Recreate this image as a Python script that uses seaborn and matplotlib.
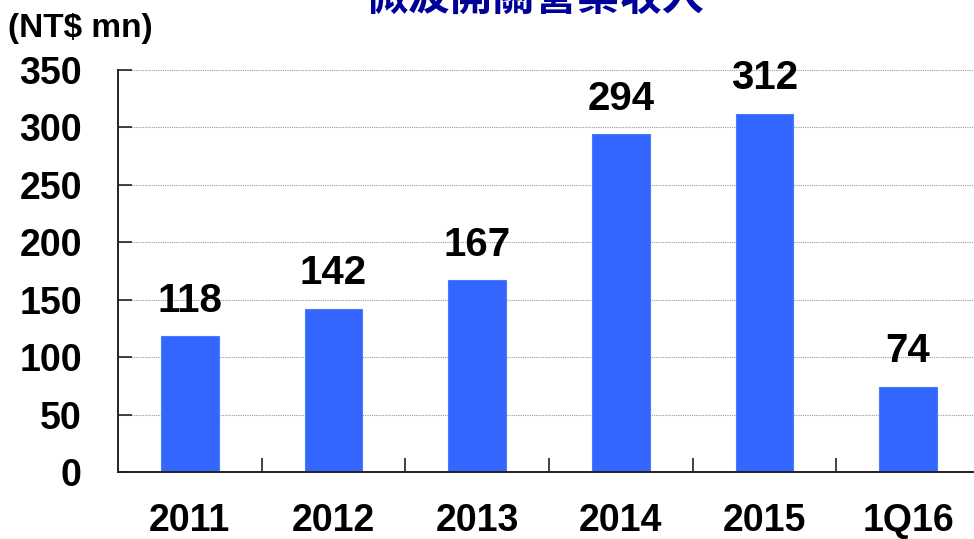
import numpy as np
import pandas as pd
import matplotlib
matplotlib.use("Agg")
import matplotlib.pyplot as plt
import seaborn as sns

# chart values
periods = ["2011", "2012", "2013", "2014", "2015", "1Q16"]
revenue = [118, 142, 167, 294, 312, 74]
y_ticks = [0, 50, 100, 150, 200, 250, 300, 350]

title = "微波開關營業收入"
unit_label = "(NT$ mn)"

df = pd.DataFrame({"period": periods, "revenue": revenue})

sns.set_theme(style="white")
plt.rcParams["font.family"] = ["Liberation Sans", "DejaVu Sans"]

fig = plt.figure(figsize=(9.74, 5.39), dpi=100)
ax = fig.add_axes([0.1211, 0.1243, 0.885, 0.7458])

sns.barplot(data=df, x="period", y="revenue", color="#3366FF", width=0.4,
            saturation=1, ax=ax, edgecolor="#4a7aff", linewidth=0.8)

ax.set_xlim(-0.5, len(periods) - 0.5)
ax.set_ylim(0, 350)
ax.set_yticks(y_ticks)
ax.set_xlabel("")
ax.set_ylabel("")

# dotted grid lines
ax.yaxis.grid(True, linestyle=(0, (1, 1)), color="#9a9a9a", linewidth=0.8)
ax.set_axisbelow(True)

# tick styling: inward ticks on the left, separators between categories
ax.tick_params(axis="y", direction="in", length=10, width=1.2, color="#222222",
               labelsize=27, pad=26, left=True)
ax.tick_params(axis="x", length=0, labelsize=27, pad=22)
ax.set_xticks(np.arange(0.5, len(periods) - 0.5), minor=True)
ax.tick_params(axis="x", which="minor", direction="in", length=10, width=1.2,
               color="#222222", bottom=True)
for lbl in ax.get_xticklabels() + ax.get_yticklabels():
    lbl.set_fontweight("bold")
    lbl.set_color("black")

for side in ["top", "right"]:
    ax.spines[side].set_visible(False)
for side in ["left", "bottom"]:
    ax.spines[side].set_color("#222222")
    ax.spines[side].set_linewidth(1.4)

# value labels above the bars
ax.bar_label(ax.containers[0], labels=[str(v) for v in revenue], padding=12,
             fontsize=29, fontweight="bold", color="black")

fig.text(0.008, 1 - 28 / 539, unit_label, fontsize=24, fontweight="bold",
         ha="left", va="center", color="black")
fig.text(535 / 974, 1 + 2 / 539, title, fontsize=30.5, fontweight="bold",
         ha="center", va="center", color="#000099",
         family=["Noto Sans CJK TC", "DejaVu Sans"])

fig.savefig("out.png", dpi=100)
